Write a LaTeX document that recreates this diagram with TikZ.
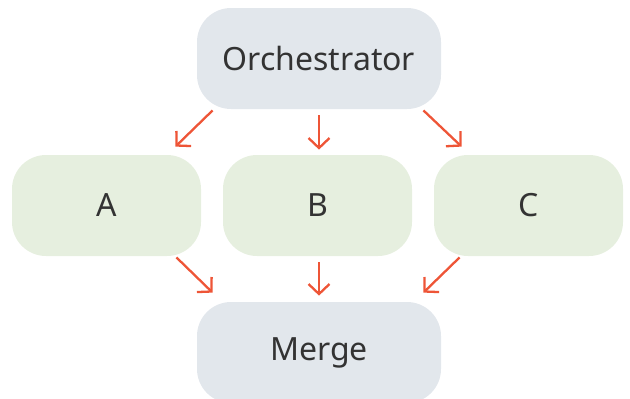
\documentclass[tikz,border=0pt]{standalone}
\usepackage{fontspec}
\setmainfont{Noto Sans}
\usepackage{tikz}
\usetikzlibrary{arrows.meta}

\definecolor{topfill}{HTML}{E2E7EC}
\definecolor{taskfill}{HTML}{E6EFDF}
\definecolor{flowred}{HTML}{EE5537}
\definecolor{labelgray}{HTML}{333333}

\tikzset{
  pill/.style={rounded corners=17pt,inner sep=0pt,text=labelgray,
    font=\fontsize{16}{19}\selectfont},
  hub/.style={pill,fill=topfill,minimum width=122pt,minimum height=50.5pt},
  task/.style={pill,fill=taskfill,minimum width=94.5pt,minimum height=50.5pt},
  flow/.style={draw=flowred,line width=1.15pt,-{Straight Barb[length=5pt,width=10.5pt]}}
}

\begin{document}
\begin{tikzpicture}[x=0.5pt,y=0.5pt]
                      \useasboundingbox (0,0) rectangle (630,398);
                      \clip (0,0) rectangle (630,398);
                      \node[hub](orch)at(319,339.5){Orchestrator};
                      \node[task](a)at(106.5,192.5){A};
                      \node[task](b)at(317.5,192.5){B};
                      \node[task](c)at(528.5,192.5){C};
                      \node[hub](merge)at(319,45.5){Merge};
                      % fan out
                      \draw[flow]([shift={(16,-1)}]orch.south west)--([shift={(-26,8)}]a.north east);
                      \draw[flow]([shift={(0,-6)}]orch.south)--([shift={(1.5,5)}]b.north);
                      \draw[flow]([shift={(-18,-1)}]orch.south east)--([shift={(28,8)}]c.north west);
                      % fan in
                      \draw[flow]([shift={(-25,-1)}]a.south east)--([shift={(16,9)}]merge.north west);
                      \draw[flow]([shift={(1.5,-6)}]b.south)--([shift={(0,6)}]merge.north);
                      \draw[flow]([shift={(26,-1)}]c.south west)--([shift={(-18,9)}]merge.north east);
                  \end{tikzpicture}
\end{document}
